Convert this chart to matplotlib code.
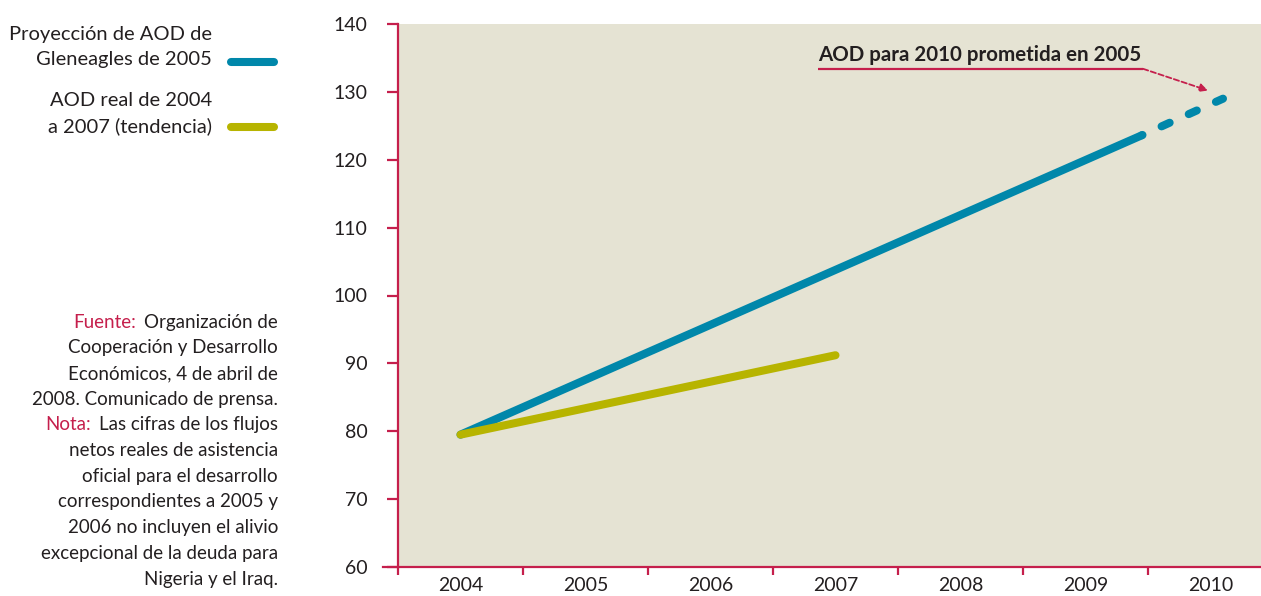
import numpy as np
import matplotlib.pyplot as plt
import matplotlib
from matplotlib.lines import Line2D

matplotlib.rcParams['font.family'] = ['Lato', 'DejaVu Sans']

# # datos
years = ['2004', '2005', '2006', '2007', '2008', '2009', '2010']
yticks = [60, 70, 80, 90, 100, 110, 120, 130, 140]

# proyección de Gleneagles (posición en el eje de años, valor)
glen_pos = [0.0, 5.45]
glen_val = [79.5, 123.6]
glen_dash_pos = [5.45, 6.1]
glen_dash_val = [123.6, 129.0]

# AOD real 2004-2007 (tendencia)
real_pos = [0.0, 3.0]
real_val = [79.5, 91.2]

beige = '#e5e3d3'
blue = '#0087aa'
olive = '#b7b400'
crimson = '#c51f4c'
ink = '#231f20'

fig = plt.figure(figsize=(12.61, 5.96), dpi=100)
ax = fig.add_axes([398/1261, 29/596, 1 - 398/1261, 543/596])
ax.set_facecolor(beige)

lw = 5.8
ax.plot(glen_pos, glen_val, color=blue, lw=lw, solid_capstyle='round', zorder=3)
ax.plot(glen_dash_pos, glen_dash_val, color=blue, lw=lw, dash_capstyle='round',
        linestyle=(1.0, (1.1, 2.6)), zorder=3)
ax.plot(real_pos, real_val, color=olive, lw=lw, solid_capstyle='round', zorder=4)

# # ejes
ax.set_xlim(-0.5, -0.5 + (1261 - 398) / 125)
ax.set_ylim(60, 140)
ax.set_yticks(yticks)
ax.set_xticks(range(len(years)))
ax.set_xticklabels(years)
ax.set_xticks(np.arange(-0.5, len(years) - 1, 1.0), minor=True)

for s in ['top', 'right']:
    ax.spines[s].set_visible(False)
for s in ['left', 'bottom']:
    ax.spines[s].set_color(crimson)
    ax.spines[s].set_linewidth(1.6)
ax.spines['bottom'].set_bounds(-0.62, 6.5)

ax.tick_params(axis='y', length=8, width=1.6, color=crimson, pad=14,
               labelsize=14, labelcolor=ink)
ax.tick_params(axis='x', which='major', length=0, pad=7, labelsize=14, labelcolor=ink)
ax.tick_params(axis='x', which='minor', length=6, width=1.6, color=crimson)

# # anotación
ax.text(2.86, 134.0, 'AOD para 2010 prometida en 2005', fontsize=14.8,
        fontweight='bold', color=ink, va='bottom', ha='left')
ax.plot([2.86, 5.46], [133.4, 133.4], color=crimson, lw=1.6, solid_capstyle='butt')
ax.annotate('', xy=(5.98, 130.2), xytext=(5.46, 133.4),
            arrowprops=dict(arrowstyle='-|>', color=crimson, lw=1.3,
                            linestyle=(0, (3, 1.5)), mutation_scale=12,
                            shrinkA=0, shrinkB=0))

# # leyenda manual
def fx(px):
    return px / 1261

def fy(py):
    return 1 - py / 596

fig.text(fx(212), fy(47), 'Proyección de AOD de\nGleneagles de 2005', ha='right',
         va='center', ma='right', fontsize=14.5, color=ink, linespacing=1.6)
fig.text(fx(212), fy(113.5), 'AOD real de 2004\na 2007 (tendencia)', ha='right',
         va='center', ma='right', fontsize=14.5, color=ink, linespacing=1.6)
fig.add_artist(Line2D([fx(231), fx(274)], [fy(62), fy(62)], color=blue, lw=lw,
                      solid_capstyle='round'))
fig.add_artist(Line2D([fx(231), fx(274)], [fy(127), fy(127)], color=olive, lw=lw,
                      solid_capstyle='round'))

# # fuente y nota
note = [
    ('Fuente:', 'Organización de'),
    ('', 'Cooperación y Desarrollo'),
    ('', 'Económicos, 4 de abril de'),
    ('', '2008. Comunicado de prensa.'),
    ('Nota:', 'Las cifras de los flujos'),
    ('', 'netos reales de asistencia'),
    ('', 'oficial para el desarrollo'),
    ('', 'correspondientes a 2005 y'),
    ('', '2006 no incluyen el alivio'),
    ('', 'excepcional de la deuda para'),
    ('', 'Nigeria y el Iraq.'),
]
y0 = 322
for i, (lab, txt) in enumerate(note):
    t = fig.text(fx(278), fy(y0 + i * 25.7), txt, ha='right', va='center',
                 fontsize=13.5, color=ink)
    if lab:
        ax.annotate(lab, xy=(0, 0), xycoords=t, xytext=(-6, 0),
                    textcoords='offset points', ha='right', va='bottom',
                    fontsize=13.5, color=crimson, annotation_clip=False)

fig.savefig('out.png', dpi=100)
